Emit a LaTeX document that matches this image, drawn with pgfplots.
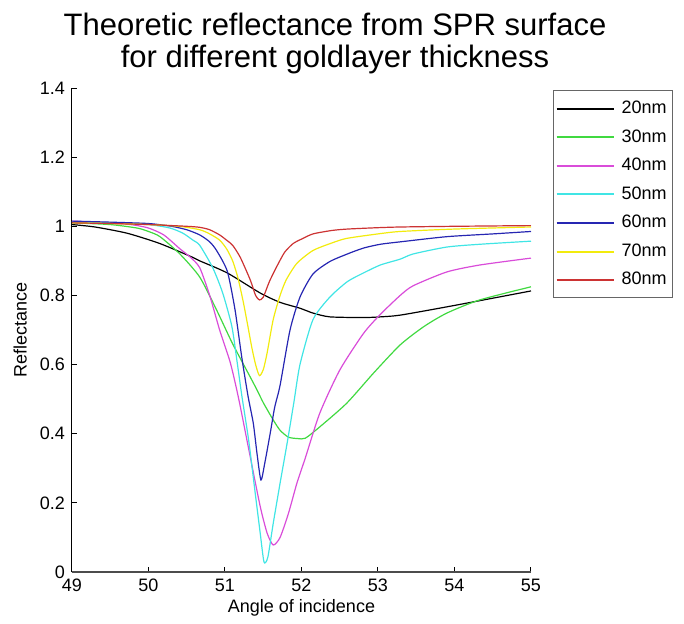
\documentclass[border=0pt]{standalone}
\usepackage{fontspec}
\setmainfont{Liberation Sans}
\usepackage{pgfplots}
\pgfplotsset{compat=1.18}

\definecolor{c20}{rgb}{0,0,0}
\definecolor{c30}{rgb}{0.25,0.85,0.25}
\definecolor{c40}{rgb}{0.85,0.3,0.85}
\definecolor{c50}{rgb}{0.25,0.9,0.9}
\definecolor{c60}{rgb}{0.15,0.15,0.7}
\definecolor{c70}{rgb}{0.95,0.92,0.05}
\definecolor{c80}{rgb}{0.8,0.2,0.2}

\begin{document}
\begin{tikzpicture}
\path[use as bounding box] (-36pt,-25.5pt) rectangle (306pt,286pt);
\begin{axis}[
    scale only axis,
    width=229.5pt,
    height=242pt,
    xmin=49, xmax=55,
    ymin=0, ymax=1.4,
    xtick={49,50,...,55},
    ytick={0,0.2,...,1.4},
    axis x line*=bottom,
    axis y line*=left,
    tick align=inside,
    major tick length=2.5pt,
    axis line style={black, line width=0.5pt},
    x axis line style={black!70, line width=0.8pt},
    every tick/.style={black, line width=0.5pt},
    /pgf/number format/assume math mode=true,
    ticklabel style={font=\fontsize{9}{10}\selectfont},
    xlabel={Angle of incidence},
    ylabel={Reflectance},
    label style={font=\fontsize{9}{10}\selectfont},
    xlabel style={at={(axis description cs:0.5,-0.075)}, anchor=center},
    ylabel style={at={(axis description cs:-0.113,0.5)}, anchor=center, rotate=0},
    clip=false,
    legend style={at={(1.048,0.995)}, anchor=north west, draw=black!60,
        line width=0.5pt, font=\fontsize{9}{11}\selectfont,
        inner xsep=1pt, inner ysep=3pt, row sep=2.5pt,
        /tikz/every odd column/.append style={column sep=1.5pt}},
    legend image code/.code={\draw[#1, line width=1pt] (3.5pt,0pt) -- (32pt,0pt);},
    legend cell align=left,
    every axis plot/.append style={line width=0.6pt, smooth, tension=0.4},
]
% 20 nm
\addplot[c20] coordinates {
(49.0,1.005) (49.3,0.998) (49.72,0.98) (50.15,0.95) (50.58,0.91) (50.67,0.90)
(51.03,0.865) (51.46,0.807) (51.72,0.78) (51.98,0.763) (52.15,0.749) (52.37,0.738)
(52.81,0.736) (53.03,0.738) (53.29,0.743) (53.9,0.767) (54.5,0.792) (55.0,0.813)
};
\addlegendentry{20nm}
% 30 nm
\addplot[c30] coordinates {
(49.0,1.01) (49.5,1.005) (49.85,0.995) (50.0,0.985) (50.15,0.97) (50.41,0.92)
(50.67,0.853) (50.89,0.758) (51.10,0.66) (51.33,0.564) (51.42,0.526) (51.5,0.49)
(51.63,0.44) (51.72,0.41) (51.83,0.39) (51.95,0.386) (52.05,0.387) (52.24,0.42)
(52.59,0.488) (52.94,0.575) (53.29,0.657) (53.6,0.71) (53.9,0.749) (54.33,0.787)
(55.0,0.825)
};
\addlegendentry{30nm}
% 40 nm
\addplot[c40] coordinates {
(49.0,1.015) (49.5,1.01) (49.8,1.004) (50.0,0.995) (50.2,0.975) (50.41,0.935)
(50.55,0.91) (50.67,0.88) (50.80,0.80) (50.93,0.70) (51.07,0.605) (51.18,0.50)
(51.33,0.333) (51.46,0.19) (51.55,0.113) (51.63,0.078) (51.72,0.10) (51.83,0.17)
(51.94,0.257) (52.05,0.33) (52.24,0.46) (52.50,0.584) (52.81,0.69) (53.03,0.745)
(53.29,0.80) (53.46,0.828) (53.9,0.868) (54.33,0.888) (55.0,0.908)
};
\addlegendentry{40nm}
% 50 nm
\addplot[c50] coordinates {
(49.0,1.012) (49.5,1.01) (50.0,1.005) (50.28,0.995) (50.45,0.98) (50.58,0.96)
(50.67,0.945) (50.84,0.88) (50.97,0.807) (51.09,0.71) (51.16,0.605) (51.22,0.51)
(51.31,0.38) (51.39,0.237) (51.46,0.113) (51.51,0.029) (51.56,0.043) (51.63,0.14)
(51.72,0.257) (51.81,0.37) (51.9,0.49) (51.98,0.60) (52.15,0.73) (52.37,0.795)
(52.6,0.84) (52.81,0.865) (53.03,0.888) (53.29,0.905) (53.46,0.92) (53.9,0.94)
(54.33,0.948) (55.0,0.957)
};
\addlegendentry{50nm}
% 60 nm
\addplot[c60] coordinates {
(49.0,1.015) (49.5,1.012) (50.0,1.008) (50.3,1.0) (50.5,0.99) (50.67,0.975)
(50.80,0.955) (50.89,0.93) (51.03,0.87) (51.13,0.76) (51.22,0.62) (51.30,0.51)
(51.37,0.43) (51.42,0.34) (51.47,0.266) (51.52,0.315) (51.59,0.40) (51.65,0.477)
(51.72,0.54) (51.85,0.70) (51.98,0.795) (52.15,0.862) (52.37,0.898) (52.6,0.92)
(52.81,0.937) (53.03,0.948) (53.29,0.955) (53.9,0.97) (54.5,0.978) (55.0,0.985)
};
\addlegendentry{60nm}
% 70 nm
\addplot[c70] coordinates {
(49.0,1.01) (49.5,1.008) (50.0,1.005) (50.4,1.0) (50.67,0.99) (50.8,0.978)
(50.93,0.96) (51.02,0.935) (51.10,0.90) (51.17,0.85) (51.24,0.78) (51.30,0.71)
(51.35,0.65) (51.40,0.60) (51.45,0.568) (51.50,0.585) (51.55,0.633) (51.63,0.73)
(51.72,0.80) (51.8,0.845) (51.94,0.893) (52.15,0.93) (52.4,0.952) (52.59,0.965)
(53.0,0.978) (53.29,0.985) (54.0,0.992) (55.0,0.998)
};
\addlegendentry{70nm}
% 80 nm
\addplot[c80] coordinates {
(49.0,1.01) (49.5,1.008) (50.0,1.005) (50.5,1.0) (50.67,0.997) (50.8,0.99)
(50.93,0.975) (51.02,0.96) (51.10,0.945) (51.2,0.91) (51.33,0.845) (51.40,0.80)
(51.45,0.787) (51.50,0.795) (51.58,0.84) (51.68,0.885) (51.78,0.925) (51.89,0.95)
(52.0,0.963) (52.15,0.978) (52.4,0.988) (52.6,0.992) (53.0,0.996) (53.3,0.998)
(54.0,1.0) (55.0,1.002)
};
\addlegendentry{80nm}
\node[anchor=base, font=\fontsize{15.5}{18}\selectfont, yshift=26.5pt] at (rel axis cs:0.573,1) {Theoretic reflectance from SPR surface};
\node[anchor=base, font=\fontsize{15.5}{18}\selectfont, yshift=10.5pt] at (rel axis cs:0.573,1) {for different goldlayer thickness};
\end{axis}
\end{tikzpicture}
\end{document}
